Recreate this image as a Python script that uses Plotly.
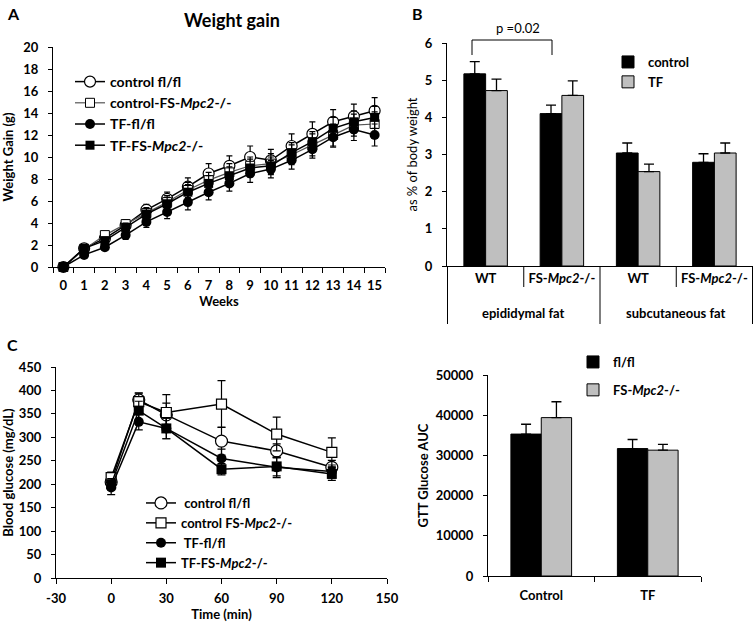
import plotly.graph_objects as go

W, H = 755, 627
FONT = "Lato"

def px(x):
    return x / W

def py(y):
    return 1 - y / H

# ---------------- Panel A data: weight gain ----------------
weeks = list(range(16))
a_ctrl_flfl = [0, 1.7, 2.6, 3.8, 5.2, 6.2, 7.3, 8.5, 9.2, 10.0, 9.7, 11.0, 12.1, 13.2, 13.7, 14.2]
a_ctrl_flfl_err = [0, 0.2, 0.3, 0.4, 0.5, 0.6, 0.8, 0.9, 0.9, 1.0, 1.0, 1.1, 1.1, 1.1, 1.1, 1.2]
a_ctrl_fs = [0, 1.6, 2.9, 3.9, 4.9, 5.9, 7.0, 7.9, 8.6, 9.2, 9.4, 10.2, 11.1, 12.0, 12.9, 13.0]
a_ctrl_fs_err = [0, 0.2, 0.3, 0.4, 0.5, 0.6, 0.7, 0.7, 0.8, 0.8, 0.9, 0.9, 1.0, 1.0, 1.0, 1.1]
a_tf_flfl = [0, 1.1, 1.8, 2.9, 4.1, 5.0, 5.9, 6.8, 7.6, 8.5, 8.9, 9.7, 10.7, 11.8, 12.5, 12.0]
a_tf_flfl_err = [0, 0.2, 0.3, 0.4, 0.5, 0.6, 0.7, 0.7, 0.7, 0.8, 0.8, 0.8, 0.8, 0.9, 1.0, 1.0]
a_tf_fs = [0, 1.7, 2.4, 3.6, 4.8, 5.75, 6.8, 7.6, 8.3, 9.0, 9.2, 10.4, 11.4, 12.6, 13.2, 13.6]
a_tf_fs_err = [0, 0.2, 0.3, 0.4, 0.5, 0.6, 0.7, 0.7, 0.8, 0.8, 0.8, 0.9, 0.9, 1.0, 1.0, 1.0]

# ---------------- Panel B data: fat depots ----------------
b_depots = ["epididymal fat", "subcutaneous fat"]
b_depot = ["epididymal fat", "epididymal fat", "subcutaneous fat", "subcutaneous fat"]
b_genotype = ["WT", "FS-<i>Mpc2</i>-/-", "WT", "FS-<i>Mpc2</i>-/-"]
b_control = [5.17, 4.10, 3.04, 2.79]
b_control_err = [0.33, 0.23, 0.27, 0.23]
b_tf = [4.72, 4.59, 2.54, 3.04]
b_tf_err = [0.31, 0.39, 0.20, 0.27]
b_keys = [f"{d} | {g}" for d, g in zip(b_depot, b_genotype)]

# ---------------- Panel C data: GTT ----------------
c_time = [0, 15, 30, 60, 90, 120]
c_ctrl_flfl = [205, 380, 348, 292, 271, 236]
c_ctrl_flfl_err = [12, 15, 25, 30, 15, 15]
c_ctrl_fs = [214, 376, 353, 371, 307, 268]
c_ctrl_fs_err = [12, 18, 38, 50, 36, 31]
c_tf_flfl = [193, 333, 319, 255, 236, 227]
c_tf_flfl_err = [15, 17, 22, 20, 22, 14]
c_tf_fs = [200, 357, 319, 232, 238, 222]
c_tf_fs_err = [12, 20, 22, 12, 20, 14]
c_xticks = [-30, 0, 30, 60, 90, 120, 150]
c_xticklabels = ["-30", "0", "30", "60", "90", "120", "150"]

# ---------------- Panel D data: GTT AUC ----------------
d_groups = ["Control", "TF"]
d_flfl = [35300, 31700]
d_flfl_err = [2450, 2250]
d_fs = [39400, 31300]
d_fs_err = [3950, 1450]

BLACK = "#000000"
GRAY = "#bfbfbf"
GRAYLINE = "#555555"

fig = go.Figure()

def err(arr, w=3):
    return dict(type="data", array=arr, visible=True, color=BLACK, thickness=1.2, width=w)

def errup(arr, w=5):
    return dict(type="data", array=arr, arrayminus=[0] * len(arr), symmetric=False,
                visible=True, color=BLACK, thickness=1.3, width=w)

# Panel A traces
fig.add_trace(go.Scatter(x=weeks, y=a_ctrl_flfl, error_y=err(a_ctrl_flfl_err), name="control fl/fl",
                         mode="lines+markers", line=dict(color=BLACK, width=1.5),
                         marker=dict(symbol="circle", size=11, color="white", line=dict(color=BLACK, width=1.2)),
                         xaxis="x", yaxis="y", legend="legend", cliponaxis=False))
fig.add_trace(go.Scatter(x=weeks, y=a_ctrl_fs, error_y=err(a_ctrl_fs_err), name="control-FS-<i>Mpc2</i>-/-",
                         mode="lines+markers", line=dict(color=GRAYLINE, width=1.2),
                         marker=dict(symbol="square", size=9, color="white", line=dict(color=BLACK, width=1)),
                         xaxis="x", yaxis="y", legend="legend", cliponaxis=False))
fig.add_trace(go.Scatter(x=weeks, y=a_tf_flfl, error_y=err(a_tf_flfl_err), name="TF-fl/fl",
                         mode="lines+markers", line=dict(color=BLACK, width=1.5),
                         marker=dict(symbol="circle", size=10, color=BLACK),
                         xaxis="x", yaxis="y", legend="legend", cliponaxis=False))
fig.add_trace(go.Scatter(x=weeks, y=a_tf_fs, error_y=err(a_tf_fs_err), name="TF-FS-<i>Mpc2</i>-/-",
                         mode="lines+markers", line=dict(color=BLACK, width=1.5),
                         marker=dict(symbol="square", size=9, color=BLACK),
                         xaxis="x", yaxis="y", legend="legend", cliponaxis=False))

# Panel B traces
fig.add_trace(go.Bar(x=b_keys, y=b_control, error_y=errup(b_control_err), name="control",
                     marker=dict(color=BLACK, line=dict(color=BLACK, width=1)),
                     xaxis="x2", yaxis="y2", legend="legend2"))
fig.add_trace(go.Bar(x=b_keys, y=b_tf, error_y=errup(b_tf_err), name="TF",
                     marker=dict(color=GRAY, line=dict(color=BLACK, width=1)),
                     xaxis="x2", yaxis="y2", legend="legend2"))

# Panel C traces
fig.add_trace(go.Scatter(x=c_time, y=c_ctrl_flfl, error_y=err(c_ctrl_flfl_err, 4), name=" control fl/fl",
                         mode="lines+markers", line=dict(color=BLACK, width=1.5),
                         marker=dict(symbol="circle", size=12, color="white", line=dict(color=BLACK, width=1.2)),
                         xaxis="x3", yaxis="y3", legend="legend3", cliponaxis=False))
fig.add_trace(go.Scatter(x=c_time, y=c_ctrl_fs, error_y=err(c_ctrl_fs_err, 4), name="control FS-<i>Mpc2</i>-/-",
                         mode="lines+markers", line=dict(color=BLACK, width=1.5),
                         marker=dict(symbol="square", size=10, color="white", line=dict(color=BLACK, width=1.2)),
                         xaxis="x3", yaxis="y3", legend="legend3", cliponaxis=False))
fig.add_trace(go.Scatter(x=c_time, y=c_tf_flfl, error_y=err(c_tf_flfl_err, 4), name=" TF-fl/fl",
                         mode="lines+markers", line=dict(color=BLACK, width=1.5),
                         marker=dict(symbol="circle", size=10, color=BLACK),
                         xaxis="x3", yaxis="y3", legend="legend3", cliponaxis=False))
fig.add_trace(go.Scatter(x=c_time, y=c_tf_fs, error_y=err(c_tf_fs_err, 4), name="TF-FS-<i>Mpc2</i>-/-",
                         mode="lines+markers", line=dict(color=BLACK, width=1.5),
                         marker=dict(symbol="square", size=10, color=BLACK),
                         xaxis="x3", yaxis="y3", legend="legend3", cliponaxis=False))

# Panel D traces
fig.add_trace(go.Bar(x=d_groups, y=d_flfl, error_y=errup(d_flfl_err), name="fl/fl",
                     marker=dict(color=BLACK, line=dict(color=BLACK, width=1)),
                     xaxis="x4", yaxis="y4", legend="legend4", legendgroup="d1"))
fig.add_trace(go.Bar(x=d_groups, y=d_fs, error_y=errup(d_fs_err), name="FS-<i>Mpc2</i>-/-",
                     marker=dict(color=GRAY, line=dict(color=BLACK, width=1)),
                     xaxis="x4", yaxis="y4", legend="legend4", legendgroup="d2"))

tickf = dict(family=FONT, size=13, color=BLACK, weight="bold")
titlef = dict(family=FONT, size=13, color=BLACK, weight="bold")
common = dict(showline=True, linecolor=BLACK, linewidth=1, showgrid=False, zeroline=False,
              tickcolor=BLACK, tickfont=tickf, automargin=False)
ycommon = dict(common, ticks="outside", ticklen=4, ticklabelstandoff=7)

legend_common = dict(bgcolor="rgba(0,0,0,0)", xanchor="left", yanchor="top",
                     font=dict(family=FONT, size=13, color=BLACK, weight="bold"),
                     itemwidth=30)

fig.update_layout(
    width=W, height=H, margin=dict(l=0, r=0, t=0, b=0),
    paper_bgcolor="white", plot_bgcolor="white",
    barmode="group", bargap=0.43, bargroupgap=0,
    font=dict(family=FONT, color=BLACK),
    xaxis=dict(**common, domain=[px(53), px(385)], anchor="y", range=[-0.5, 15.5],
               tickvals=weeks, ticks="", ticklen=0, ticklabelstandoff=6,
               minor=dict(tick0=-0.5, dtick=1, ticks="outside", ticklen=5, tickcolor=BLACK),
               title=dict(text="Weeks", font=titlef, standoff=5)),
    yaxis=dict(**ycommon, domain=[py(267), py(47)], anchor="x", range=[0, 20], dtick=2,
               title=dict(text="Weight Gain (g)", font=titlef, standoff=8)),
    xaxis2=dict(**common, domain=[px(447), px(753)], anchor="y2", type="category",
                tickvals=b_keys, ticktext=b_genotype, ticks=""),
    yaxis2=dict(**ycommon, domain=[py(266), py(43)], anchor="x2", range=[0, 6], dtick=1,
                title=dict(text="as % of body weight", font=dict(family=FONT, size=13, color=BLACK), standoff=4)),
    xaxis3=dict(**common, domain=[px(56), px(387)], anchor="y3", range=[-30, 150],
                tickvals=c_xticks, ticktext=c_xticklabels,
                ticks="outside", ticklen=5, ticklabelstandoff=3,
                title=dict(text="Time (min)", font=titlef, standoff=0)),
    yaxis3=dict(**ycommon, domain=[py(578), py(367)], anchor="x3", range=[0, 450], dtick=50,
                title=dict(text="Blood glucose (mg/dL)", font=titlef, standoff=7)),
    xaxis4=dict(**common, domain=[px(488), px(701)], anchor="y4", type="category",
                tickson="boundaries", ticks="outside", ticklen=5, ticklabelstandoff=7),
    yaxis4=dict(**ycommon, domain=[py(576), py(375)], anchor="x4", range=[0, 50000], dtick=10000,
                tickformat="d",
                title=dict(text="GTT Glucose AUC", font=titlef, standoff=4)),
    legend=dict(**legend_common, x=px(70), y=py(66), traceorder="normal"),
    legend2=dict(**legend_common, x=px(608), y=py(47), traceorder="normal"),
    legend3=dict(**legend_common, x=px(141), y=py(488), traceorder="normal"),
    legend4=dict(**legend_common, x=px(573), y=py(347), traceorder="grouped", tracegroupgap=8),
    showlegend=True,
)
fig.update_layout(legend_font_size=14)

annots = [
    dict(text="A", x=px(5), y=py(2), xanchor="left", yanchor="top", font=dict(family=FONT, size=16, weight="bold")),
    dict(text="B", x=px(410), y=py(2), xanchor="left", yanchor="top", font=dict(family=FONT, size=16, weight="bold")),
    dict(text="C", x=px(5), y=py(333), xanchor="left", yanchor="top", font=dict(family=FONT, size=16, weight="bold")),
    dict(text="Weight gain", x=px(232), y=py(20), xanchor="center", yanchor="middle",
         font=dict(family=FONT, size=18, weight="bold")),
    dict(text="p =0.02", x=px(518), y=py(28), xanchor="center", yanchor="middle",
         font=dict(family=FONT, size=13)),
]
for a in annots:
    a.update(xref="paper", yref="paper", showarrow=False)
# depot group labels on panel B's category axis (centred between its two genotype categories)
for i, dep in enumerate(b_depots):
    annots.append(dict(text=dep, x=2 * i + 0.5, xref="x2", y=py(313), yref="paper",
                       xanchor="center", yanchor="middle", showarrow=False,
                       font=dict(family=FONT, size=13, weight="bold", color=BLACK)))
fig.update_layout(annotations=annots)

# category dividers under panel B's axis: short between genotypes, long between depots
for xb in [0.5, 2.5]:
    fig.add_shape(type="line", xref="x2", yref="paper", x0=xb, x1=xb, y0=py(266), y1=py(287),
                  line=dict(color=BLACK, width=1))
for xb in [-0.5, 1.5, 3.5]:
    fig.add_shape(type="line", xref="x2", yref="paper", x0=xb, x1=xb, y0=py(266), y1=py(324),
                  line=dict(color=BLACK, width=1))

# significance bracket (panel B)
fig.add_shape(type="path", xref="paper", yref="paper",
              path=f"M {px(472)},{py(55)} L {px(472)},{py(40)} L {px(552)},{py(40)} L {px(552)},{py(55)}",
              line=dict(color=BLACK, width=1))

fig.write_html("out.html", config={"displayModeBar": False},
               post_script="document.body.style.margin='0';")
